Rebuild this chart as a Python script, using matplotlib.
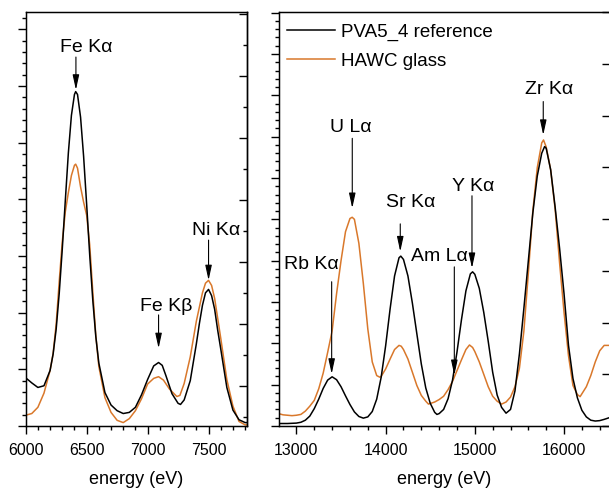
import matplotlib.pyplot as plt
from matplotlib.ticker import MultipleLocator

plt.rcParams['font.family'] = ['Liberation Sans', 'DejaVu Sans']

# Fe / Ni region (left panel), intensity in arbitrary units
energy_ref_fe = [6000, 6050, 6100, 6150, 6200, 6225, 6250, 6275, 6300, 6325, 6350, 6375,
                 6400, 6410, 6425, 6450, 6475, 6500, 6525, 6550, 6575, 6600, 6650, 6700,
                 6750, 6800, 6850, 6900, 6950, 7000, 7050, 7090, 7120, 7150, 7200, 7250,
                 7270, 7300, 7350, 7400, 7425, 7450, 7475, 7500, 7525, 7550, 7575, 7600,
                 7650, 7700, 7750, 7800, 7820]
ref_fe = [0.85, 0.76, 0.68, 0.71, 0.98, 1.27, 1.71, 2.34, 3.12, 3.98, 4.82, 5.48,
          5.85, 5.90, 5.85, 5.45, 4.76, 3.91, 3.02, 2.23, 1.58, 1.11, 0.59, 0.37,
          0.27, 0.22, 0.24, 0.33, 0.55, 0.82, 1.06, 1.12, 1.07, 0.89, 0.57, 0.40,
          0.38, 0.46, 0.80, 1.45, 1.81, 2.13, 2.35, 2.41, 2.30, 2.06, 1.69, 1.36,
          0.68, 0.28, 0.11, 0.06, 0.06]

energy_glass_fe = [6000, 6050, 6100, 6150, 6200, 6225, 6250, 6275, 6300, 6325, 6350, 6375,
                   6400, 6410, 6425, 6450, 6475, 6500, 6525, 6550, 6575, 6600, 6650, 6700,
                   6750, 6800, 6850, 6900, 6950, 7000, 7050, 7090, 7130, 7180, 7240, 7265,
                   7300, 7350, 7400, 7450, 7475, 7500, 7525, 7550, 7600, 7650, 7700, 7750,
                   7800, 7820]
glass_fe = [0.19, 0.22, 0.33, 0.58, 0.98, 1.28, 1.80, 2.55, 3.25, 3.78, 4.12, 4.42,
            4.60, 4.62, 4.55, 4.22, 3.95, 3.72, 3.20, 2.38, 1.60, 1.05, 0.50, 0.24,
            0.10, 0.06, 0.13, 0.27, 0.48, 0.74, 0.84, 0.87, 0.81, 0.65, 0.52, 0.54,
            0.75, 1.22, 1.85, 2.35, 2.52, 2.57, 2.48, 2.25, 1.55, 0.82, 0.35, 0.08,
            0.02, 0.02]

# Rb ... Zr region (right panel)
energy_ref_zr = [12800, 12900, 13000, 13050, 13100, 13150, 13200, 13250, 13300, 13350,
                 13400, 13450, 13500, 13550, 13600, 13650, 13700, 13750, 13800, 13850,
                 13900, 13950, 14000, 14050, 14100, 14150, 14170, 14200, 14250, 14300,
                 14350, 14400, 14450, 14500, 14550, 14575, 14600, 14650, 14700, 14750,
                 14800, 14850, 14900, 14950, 14975, 15000, 15050, 15100, 15150, 15200,
                 15250, 15300, 15350, 15400, 15450, 15500, 15550, 15600, 15650, 15700,
                 15750, 15782, 15800, 15850, 15900, 15950, 16000, 16050, 16100, 16150,
                 16200, 16250, 16300, 16350, 16400, 16450, 16520]
ref_zr = [0.06, 0.06, 0.07, 0.09, 0.14, 0.24, 0.42, 0.65, 0.91, 1.11,
          1.19, 1.12, 0.95, 0.73, 0.52, 0.34, 0.23, 0.19, 0.22, 0.35,
          0.65, 1.18, 1.94, 2.83, 3.63, 4.07, 4.11, 4.03, 3.63, 2.97,
          2.23, 1.50, 0.92, 0.55, 0.33, 0.28, 0.30, 0.40, 0.66, 1.11,
          1.79, 2.57, 3.27, 3.68, 3.73, 3.67, 3.33, 2.75, 2.05, 1.30,
          0.75, 0.45, 0.31, 0.40, 0.85, 1.75, 2.85, 4.00, 5.15, 6.05,
          6.60, 6.76, 6.72, 6.20, 5.30, 4.30, 3.20, 1.95, 1.15, 0.68,
          0.38, 0.22, 0.14, 0.12, 0.13, 0.16, 0.21]

energy_glass_zr = [12800, 12850, 12900, 12950, 13000, 13050, 13100, 13150, 13200, 13250,
                   13300, 13350, 13400, 13450, 13500, 13550, 13600, 13625, 13650, 13700,
                   13750, 13800, 13850, 13900, 13935, 13950, 14000, 14050, 14100, 14150,
                   14175, 14200, 14250, 14300, 14350, 14400, 14450, 14480, 14550, 14600,
                   14650, 14700, 14750, 14800, 14850, 14900, 14940, 14975, 15000, 15050,
                   15100, 15150, 15200, 15250, 15300, 15350, 15400, 15450, 15500, 15550,
                   15600, 15650, 15700, 15750, 15770, 15800, 15850, 15900, 15950, 16000,
                   16050, 16100, 16150, 16180, 16250, 16300, 16350, 16400, 16450, 16520]
glass_zr = [0.30, 0.27, 0.26, 0.25, 0.26, 0.28, 0.36, 0.48, 0.62, 0.90,
            1.28, 1.78, 2.30, 3.20, 4.00, 4.70, 5.02, 5.05, 5.00, 4.42,
            3.45, 2.35, 1.55, 1.22, 1.18, 1.20, 1.38, 1.62, 1.85, 1.95,
            1.93, 1.85, 1.62, 1.30, 0.98, 0.74, 0.60, 0.53, 0.58, 0.64,
            0.72, 0.88, 1.08, 1.34, 1.60, 1.85, 1.96, 1.90, 1.80, 1.55,
            1.25, 0.95, 0.72, 0.60, 0.53, 0.58, 0.70, 0.95, 1.40, 2.30,
            3.70, 5.20, 6.25, 6.85, 6.92, 6.75, 6.20, 5.25, 3.95, 2.75,
            1.70, 0.98, 0.76, 0.71, 0.95, 1.22, 1.55, 1.82, 1.95, 1.95]

BLACK = 'black'
ORANGE = '#d9782b'


def style_axes(ax, xmin, xmax, xmajor, xminor, ymax, yminor):
    ax.set_xlim(xmin, xmax)
    ax.set_ylim(0, ymax)
    ax.xaxis.set_major_locator(MultipleLocator(xmajor))
    ax.xaxis.set_minor_locator(MultipleLocator(xminor))
    ax.yaxis.set_major_locator(MultipleLocator(1))
    ax.yaxis.set_minor_locator(MultipleLocator(yminor))
    ax.tick_params(which='both', direction='out', top=False, right=False,
                   labelleft=False, labelsize=11.5, width=1, pad=7)
    ax.tick_params(which='major', length=5.5)
    ax.tick_params(which='minor', length=3)
    for s in ax.spines.values():
        s.set_linewidth(1)
    ax.set_xlabel('energy (eV)', fontsize=13, labelpad=9)


def right_ticks(ax, ymin, ymax, minor=None):
    tw = ax.twinx()
    tw.set_ylim(ymin, ymax)
    tw.yaxis.set_major_locator(MultipleLocator(1))
    if minor:
        tw.yaxis.set_minor_locator(MultipleLocator(minor))
    tw.tick_params(which='both', direction='in', labelright=False, width=1)
    tw.tick_params(which='major', length=5.5)
    tw.tick_params(which='minor', length=3)
    tw.spines['right'].set_linewidth(1)


def arrow_label(ax, text, tx, ty, ax_x, y_from, y_to):
    ax.text(tx, ty, text, fontsize=14, ha='center', va='baseline')
    ax.annotate('', xy=(ax_x, y_to), xytext=(ax_x, y_from),
                arrowprops=dict(arrowstyle='-|>,head_length=0.6,head_width=0.13',
                                mutation_scale=15, color='black', lw=0.8,
                                shrinkA=0, shrinkB=0))


fig = plt.figure(figsize=(6.09, 4.91), dpi=100)

# left panel
ax1 = fig.add_axes([0.0422, 0.1324, 0.3639, 0.8426])
ax1.plot(energy_ref_fe, ref_fe, color=BLACK, lw=1.1, zorder=3)
ax1.plot(energy_glass_fe, glass_fe, color=ORANGE, lw=1.1, zorder=2)
style_axes(ax1, 6000, 7818, 500, 100, 7.30, 0.2)
right_ticks(ax1, 0.35, 7.02, minor=0.5)
arrow_label(ax1, 'Fe K\u03b1', 6493, 6.60, 6412, 6.51, 5.93)
arrow_label(ax1, 'Fe K\u03b2', 7155, 2.03, 7090, 1.96, 1.37)
arrow_label(ax1, 'Ni K\u03b1', 7565, 3.37, 7500, 3.28, 2.57)

# right panel
ax2 = fig.add_axes([0.4576, 0.1324, 0.5440, 0.8426])
ax2.plot(energy_ref_zr, ref_zr, color=BLACK, lw=1.1, zorder=3, label='PVA5_4 reference')
ax2.plot(energy_glass_zr, glass_zr, color=ORANGE, lw=1.1, zorder=2, label='HAWC glass')
style_axes(ax2, 12801, 16515, 1000, 200, 10.01, 0.2)
right_ticks(ax2, 0, 8.0)
arrow_label(ax2, 'U L\u03b1', 13609, 7.12, 13626, 6.96, 5.27)
arrow_label(ax2, 'Rb K\u03b1', 13171, 3.79, 13395, 3.49, 1.26)
arrow_label(ax2, 'Sr K\u03b1', 14278, 5.31, 14164, 4.89, 4.22)
arrow_label(ax2, 'Am L\u03b1', 14604, 4.00, 14770, 3.85, 1.23)
arrow_label(ax2, 'Y K\u03b1', 14977, 5.69, 14968, 5.57, 3.82)
arrow_label(ax2, 'Zr K\u03b1', 15829, 8.03, 15767, 7.85, 7.04)
ax2.legend(loc='upper left', bbox_to_anchor=(0.024, 0.972), frameon=False,
           fontsize=13.5, handlelength=2.56, handletextpad=0.36, labelspacing=0.6,
           borderpad=0, borderaxespad=0)

fig.savefig('out.png', dpi=100)
